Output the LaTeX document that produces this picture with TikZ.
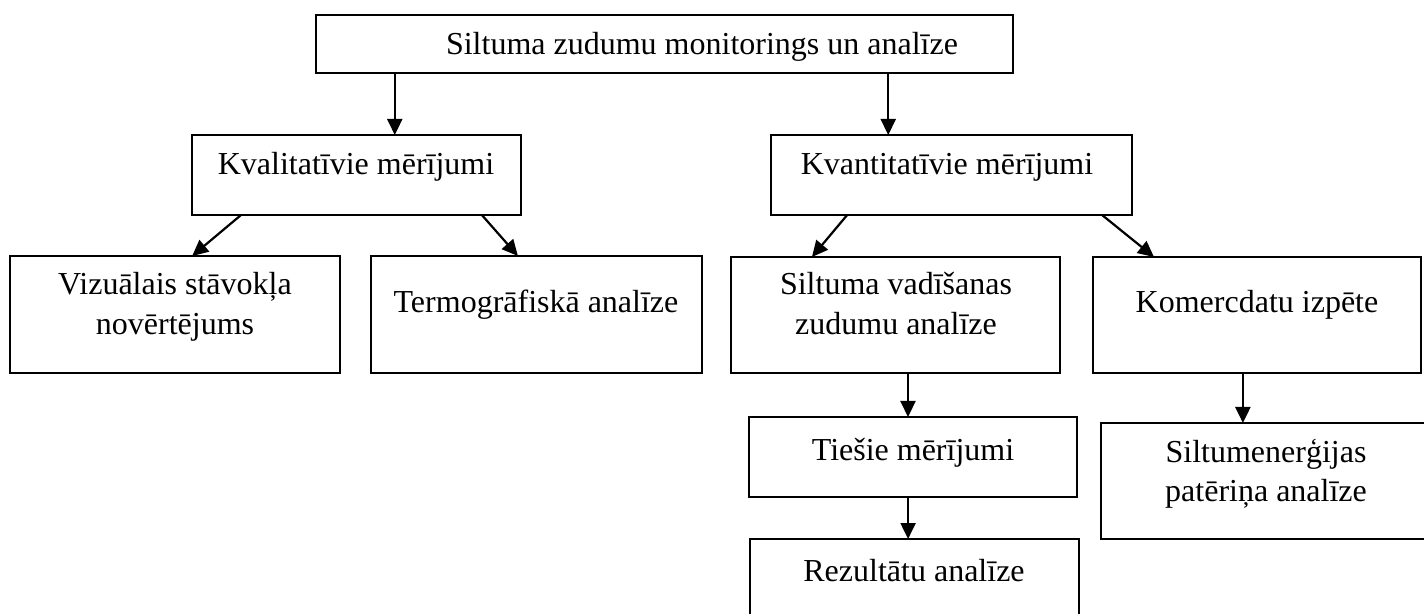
\documentclass[tikz,border=0pt]{standalone}
\usepackage{fontspec}
\setmainfont{Liberation Serif}
\usetikzlibrary{arrows.meta,calc}
\begin{document}
\begin{tikzpicture}[x=0.5pt,y=-0.5pt,
  box/.style={draw=black,line width=1pt,fill=none,inner sep=0pt,outer sep=0pt,rectangle},
  txt/.style={inner sep=0pt,outer sep=0pt,anchor=base,font=\fontsize{16pt}{20pt}\selectfont},
  arr/.style={line width=1.1pt,-{Triangle[length=8pt,width=7.5pt]}}]
\fill[white] (0,0) rectangle (1424,614);
\clip (0,0) rectangle (1424,614);
% boxes
\node[box,minimum width=348.5pt,minimum height=29pt] (top) at (664.5,44) {};
\node[box,minimum width=164.5pt,minimum height=40pt] (kval) at (356.5,175) {};
\node[box,minimum width=180.5pt,minimum height=40pt] (kvant) at (951.5,175) {};
\node[box,minimum width=165pt,minimum height=58.5pt] (viz) at (175,314.5) {};
\node[box,minimum width=165.5pt,minimum height=58.5pt] (termo) at (536.5,314.5) {};
\node[box,minimum width=164.5pt,minimum height=58pt] (silt) at (895.5,315) {};
\node[box,minimum width=164pt,minimum height=58pt] (kom) at (1257,315) {};
\node[box,minimum width=164pt,minimum height=40pt] (ties) at (913,457) {};
\node[box,minimum width=164.5pt,minimum height=50.5pt] (rez) at (914.5,589.5) {};
\node[box,minimum width=169.5pt,minimum height=58pt] (siltum) at (1270.5,481) {};
% texts
\node[txt] (topT) at (702,55) {Siltuma zudumu monitorings un analīze};
\node[txt] (kvalT) at (356,175) {Kvalitatīvie mērījumi};
\node[txt] (kvantT) at (947,175) {Kvantitatīvie mērījumi};
\node[txt] (vizA) at (175,295) {Vizuālais stāvokļa};
\node[txt] (vizB) at (175,335) {novērtējums};
\node[txt] (termoT) at (536,313) {Termogrāfiskā analīze};
\node[txt] (siltA) at (896,295) {Siltuma vadīšanas};
\node[txt] (siltB) at (896,335) {zudumu analīze};
\node[txt] (komT) at (1257,313) {Komercdatu izpēte};
\node[txt] (tiesT) at (913,460) {Tiešie mērījumi};
\node[txt] (rezT) at (914,581) {Rezultātu analīze};
\node[txt] (siltumA) at (1266,463) {Siltumenerģijas};
\node[txt] (siltumB) at (1266,502) {patēriņa analīze};
% connectors
\draw[arr] ($(top.south west)!0.113!(top.south east)$) coordinate (a1) -- (a1 |- kval.north);
\draw[arr] ($(top.south west)!0.821!(top.south east)$) coordinate (a2) -- (a2 |- kvant.north);
\draw[arr] ($(kval.south west)!0.149!(kval.south east)$) -- ($(viz.north west)!0.552!(viz.north east)$);
\draw[arr] ($(kval.south west)!0.881!(kval.south east)$) -- ($(termo.north west)!0.444!(termo.north east)$);
\draw[arr] ($(kvant.south west)!0.211!(kvant.south east)$) -- ($(silt.north west)!0.246!(silt.north east)$);
\draw[arr] ($(kvant.south west)!0.917!(kvant.south east)$) -- ($(kom.north west)!0.186!(kom.north east)$);
\draw[arr] ($(silt.south west)!0.538!(silt.south east)$) coordinate (a3) -- (a3 |- ties.north);
\draw[arr] ($(ties.south west)!0.485!(ties.south east)$) coordinate (a4) -- (a4 |- rez.north);
\draw[arr] ($(kom.south west)!0.457!(kom.south east)$) coordinate (a5) -- (a5 |- siltum.north);
\end{tikzpicture}
\end{document}
